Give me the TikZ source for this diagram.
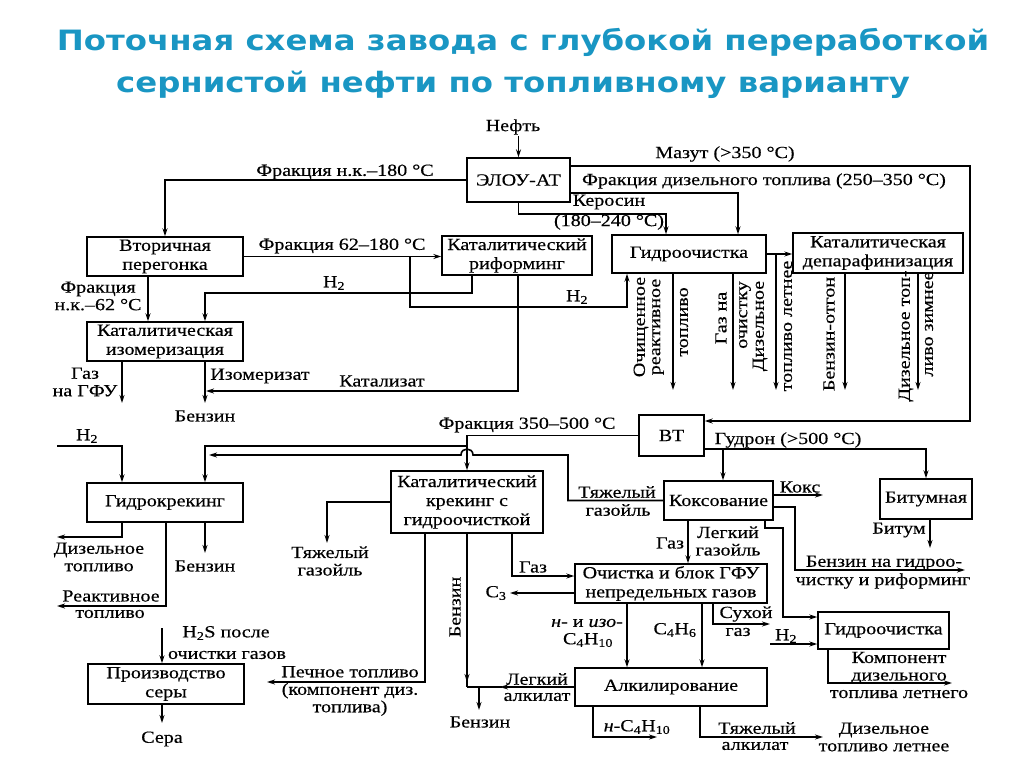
\documentclass[tikz,border=0pt]{standalone}
\usepackage{fontspec}
\setmainfont{Liberation Serif}[FakeStretch=1.18, FakeBold=0.4]
\newfontfamily\titlefont{DejaVu Sans}[FakeStretch=1.155]
\usetikzlibrary{arrows.meta}

\definecolor{titleblue}{RGB}{25,150,195}

\begin{document}
\begin{tikzpicture}[x=1pt, y=-1pt,
        box/.style={rectangle, draw, line width=1.4pt, align=center, inner sep=1pt, font=\fontsize{17}{19}\selectfont},
        note/.style={align=center, inner sep=1pt, font=\fontsize{17}{17.5}\selectfont},
        vnote/.style={note, rotate=90},
        heading/.style={font=\titlefont\bfseries\fontsize{28}{30}\selectfont, text=titleblue},
        flow/.style={-{Stealth[length=8pt,width=5pt]}, line width=1.6pt},
        pipe/.style={line width=1.6pt}
    ]
    \useasboundingbox (0,0) rectangle (1024,767);

    % Title
    \node[heading] (title1) at (523,42) {Поточная схема завода с глубокой переработкой};
    \node[heading] (title2) at (513,85) {сернистой нефти по топливному варианту};

    % Units
    \node[box, minimum width=103, minimum height=44] (elou) at (518.5,180) {ЭЛОУ-АТ};
    \node[box, minimum width=156, minimum height=39] (vtor) at (165,256.5) {Вторичная\\перегонка};
    \node[box, minimum width=150, minimum height=39] (riform) at (517,255.5) {Каталитический\\риформинг};
    \node[box, minimum width=154, minimum height=38] (gidro1) at (689,254) {Гидроочистка};
    \node[box, minimum width=170, minimum height=40] (depar) at (878,253) {Каталитическая\\депарафинизация};
    \node[box, minimum width=156, minimum height=39] (izom) at (165,341.5) {Каталитическая\\изомеризация};
    \node[box, minimum width=65, minimum height=41] (vt) at (671.5,435.5) {ВТ};
    \node[box, minimum width=156, minimum height=39] (gkrek) at (165,502.5) {Гидрокрекинг};
    \node[box, minimum width=152, minimum height=62] (kkrek) at (467,502) {Каталитический\\крекинг с\\гидроочисткой};
    \node[box, minimum width=109, minimum height=39] (koks) at (718.5,500.5) {Коксование};
    \node[box, minimum width=92, minimum height=40] (bitum) at (926,499) {Битумная};
    \node[box, minimum width=192, minimum height=39] (gfu) at (671,583.5) {Очистка и блок ГФУ\\непредельных газов};
    \node[box, minimum width=131, minimum height=37] (gidro2) at (883.5,630.5) {Гидроочистка};
    \node[box, minimum width=156, minimum height=40] (sera) at (166,684) {Производство\\серы};
    \node[box, minimum width=192, minimum height=38] (alkil) at (671,687) {Алкилирование};

    % Free ends
    \coordinate (gasIzo) at (122,403);
    \coordinate (benzIzo) at (205,403);
    \coordinate (jet) at (673,390);
    \coordinate (gasH) at (733,390);
    \coordinate (dSummer) at (776,390);
    \coordinate (otgon) at (845,390);
    \coordinate (dWinter) at (918,390);
    \coordinate (h2Gk) at (57,446);
    \coordinate (dGk) at (57,537);
    \coordinate (jGk) at (57,606);
    \coordinate (bGk) at (205,553);
    \coordinate (tgoOut) at (327,543);
    \coordinate (pechOut) at (267,682);
    \coordinate (benzOut) at (479,710);
    \coordinate (c3Out) at (510,593);
    \coordinate (gudron) at (723,449);
    \coordinate (bitOut) at (930,548);
    \coordinate (koksOut) at (823,495);
    \coordinate (bgrOut) at (965,570);
    \coordinate (dryOut) at (770,624);
    \coordinate (h2G2) at (770,644);
    \coordinate (compOut) at (952,683);
    \coordinate (nbutOut) at (657,737);
    \coordinate (heavyOut) at (823,737);
    \coordinate (h2sIn) at (162,628);
    \coordinate (sulfOut) at (162,723);

    % Atmospheric unit
    \node[note] (tOil) at (513,127) {Нефть};
    \draw[flow] (elou.north |- tOil.south) -- (elou.north);
    \draw[flow] (elou.west) -| (vtor.north);
    \node[note] (tNk180) at (345,172) {Фракция н.к.–180 °C};
    \draw[flow] (elou.east |- 0,166) -| (970,421) -- (vt.east |- 0,421);
    \node[note] (tMazut) at (725,154) {Мазут (>350 °C)};
    \draw[flow] (elou.east |- 0,193) -| (gidro1.north -| 738,0);
    \node[note] (tDiesel) at (764,181) {Фракция дизельного топлива (250–350 °C)};
    \draw[flow] (elou.south) |- (666,214) -- (gidro1.north -| 666,0);
    \node[note] (tKer) at (609,202) {Керосин};
    \node[note] (tKerT) at (609,222) {(180–240 °C)};

    % Secondary distillation, reforming, isomerization
    \draw[flow] (vtor.east) -- (vtor.east -| riform.west);
    \node[note] (t62) at (342,246) {Фракция 62–180 °C};
    \draw[flow] (vtor.south -| 148,0) -- (izom.north -| 148,0);
    \node[note] (tNk62) at (98,296) {Фракция\\н.к.–62 °C};
    \draw[flow] (riform.south -| 472,0) |- (205,293) -- (izom.north -| 205,0);
    \node[note] (tH2a) at (334,283) {H\textsubscript{2}};
    \draw[flow] (vtor.east -| 410,0) |- (627,307) -- (gidro1.south -| 627,0);
    \node[note] (tH2b) at (577,297) {H\textsubscript{2}};
    \draw[flow] (riform.south -| 518,0) |- (206,391);
    \node[note] (tKat) at (382,381) {Катализат};
    \draw[flow] (izom.south -| gasIzo) -- (gasIzo);
    \node[note] (tGfu) at (85,382) {Газ\\на ГФУ};
    \draw[flow] (izom.south -| benzIzo) -- (benzIzo);
    \node[note] (tIzo) at (260,376) {Изомеризат};
    \node[note] (tBenz1) at (205,416) {Бензин};

    % Hydrotreating and dewaxing
    \draw[flow] (gidro1.south -| jet) -- (jet);
    \node[vnote] (tJet1) at (641,327) {Очищенное};
    \node[vnote] (tJet2) at (658,327) {реактивное};
    \node[vnote] (tJet3) at (684,322) {топливо};
    \draw[flow] (gidro1.south -| gasH) -- (gasH);
    \node[vnote] (tGas1) at (721,318) {Газ на};
    \node[vnote] (tGas2) at (745,315) {очистку};
    \draw[flow] (gidro1.east) -- (gidro1.east -| depar.west);
    \draw[flow] (gidro1.east -| dSummer) -- (dSummer);
    \node[vnote] (tDs1) at (760,326) {Дизельное};
    \node[vnote] (tDs2) at (788,326) {топливо летнее};
    \draw[flow] (depar.south -| otgon) -- (otgon);
    \node[vnote] (tOtg) at (829,334) {Бензин-отгон};
    \draw[flow] (depar.south -| dWinter) -- (dWinter);
    \node[vnote] (tDw1) at (906,336) {Дизельное топ-};
    \node[vnote] (tDw2) at (929,324) {ливо зимнее};

    % Vacuum unit
    \draw[flow] (vt.west) -| (kkrek.north |- 0,446) -| (gkrek.north -| 205,0);
    \draw[flow] (kkrek.north |- 0,446) -- (kkrek.north);
    \node[note] (t350) at (527,425) {Фракция 350–500 °C};
    \draw[flow] (vt.east |- gudron) -| (bitum.north);
    \draw[flow] (gudron) -- (koks.north -| gudron);
    \node[note] (tGud) at (788,440) {Гудрон (>500 °C)};

    % Hydrocracking
    \draw[flow] (h2Gk) -| (gkrek.north -| 122,0);
    \node[note] (tH2c) at (87,436) {H\textsubscript{2}};
    \draw[flow] (gkrek.south -| 122,0) |- (dGk);
    \node[note] (tDgk) at (99,557) {Дизельное\\топливо};
    \draw[flow] (gkrek.south -| 166,0) |- (jGk);
    \node[note] (tJetA) at (111,596) {Реактивное};
    \node[note] (tJetB) at (110,614) {топливо};
    \draw[flow] (gkrek.south -| bGk) -- (bGk);
    \node[note] (tBenz2) at (205,566) {Бензин};

    % Catalytic cracking
    \draw[flow] (kkrek.west) -| (tgoOut);
    \node[note] (tTgoL) at (330,561) {Тяжелый\\газойль};
    \draw[flow] (kkrek.south -| 425,0) |- (pechOut);
    \node[note] (tPech) at (350,691) {Печное топливо\\(компонент диз.\\топлива)};
    \draw[flow] (kkrek.south) -- (kkrek.south |- 0,682);
    \draw[pipe] (kkrek.south |- 0,678) -- (kkrek.south |- alkil.west);
    \node[vnote] (tBenzK) at (455,607) {Бензин};
    \draw[flow] (kkrek.south -| 512,0) |- (gfu.west |- 0,576);
    \node[note] (tGasK) at (533,567) {Газ};
    \draw[flow] (gfu.west |- c3Out) -- (c3Out);
    \node[note] (tC3) at (496,593) {C\textsubscript{3}};

    % Coking
    \draw[flow] (koks.west) -| (568,455) -- (473,455) .. controls (473,447) and (461,447) .. (461,455) -- (209,455);
    \node[note] (tTgoR1) at (617,492) {Тяжелый};
    \node[note] (tTgoR2) at (618,510) {газойль};
    \draw[flow] (koks.east |- koksOut) -- (koksOut);
    \node[note] (tKoks) at (800,487) {Кокс};
    \draw[flow] (koks.east |- 0,507) -| (795,570) -- (bgrOut);
    \node[note] (tBgr1) at (884,563) {Бензин на гидроо-};
    \node[note] (tBgr2) at (883,581) {чистку и риформинг};
    \draw[flow] (koks.south -| 688,0) -- (gfu.north -| 688,0);
    \node[note] (tGasKo) at (670,543) {Газ};
    \draw[flow] (koks.south -| 765,0) |- (783,528) |- (gidro2.west |- 0,617);
    \node[note] (tLgo) at (728,541) {Легкий\\газойль};
    \draw[flow] (bitum.south -| bitOut) -- (bitOut);
    \node[note] (tBit) at (899,530) {Битум};

    % Gas fractionation and alkylation
    \draw[flow] (gfu.south -| 627,0) -- (alkil.north -| 627,0);
    \node[note] (tIso) at (587,623) {\textit{н}- и \textit{изо}-};
    \node[note] (tC4H10) at (588,640) {C\textsubscript{4}H\textsubscript{10}};
    \draw[flow] (gfu.south -| 702,0) -- (alkil.north -| 702,0);
    \node[note] (tC4H6) at (675,630) {C\textsubscript{4}H\textsubscript{6}};
    \draw[flow] (gfu.south -| 713,0) |- (dryOut);
    \node[note] (tDry1) at (746,614) {Сухой};
    \node[note] (tDry2) at (738,632) {газ};
    \draw[flow] (h2G2) -- (gidro2.west |- h2G2);
    \node[note] (tH2d) at (786,636) {H\textsubscript{2}};
    \draw[flow] (gidro2.south -| 828,0) |- (compOut);
    \node[note] (tComp) at (899,675) {Компонент\\дизельного\\топлива летнего};
    \draw[flow] (alkil.west) -- (500,687);
    \draw[pipe] (502,687) -- (kkrek.south |- alkil.west);
    \node[note] (tAlkL1) at (537,679) {Легкий};
    \node[note] (tAlkL2) at (537,697) {алкилат};
    \draw[flow] (benzOut |- alkil.west) -- (benzOut);
    \node[note] (tBenz3) at (480,722) {Бензин};
    \draw[flow] (alkil.south -| 593,0) |- (nbutOut);
    \node[note] (tNbut) at (637,727) {\textit{н}-C\textsubscript{4}H\textsubscript{10}};
    \draw[flow] (alkil.south -| 700,0) |- (heavyOut);
    \node[note] (tHeavy1) at (757,728) {Тяжелый};
    \node[note] (tHeavy2) at (755,746) {алкилат};
    \node[note] (tDsl) at (884,737) {Дизельное\\топливо летнее};

    % Sulphur
    \draw[flow] (h2sIn) -- (sera.north -| h2sIn);
    \node[note] (tH2S) at (226,633) {H\textsubscript{2}S после};
    \node[note] (tH2S2) at (227,655) {очистки газов};
    \draw[flow] (sera.south -| sulfOut) -- (sulfOut);
    \node[note] (tSulf) at (162,739) {Сера};

\end{tikzpicture}
\end{document}
